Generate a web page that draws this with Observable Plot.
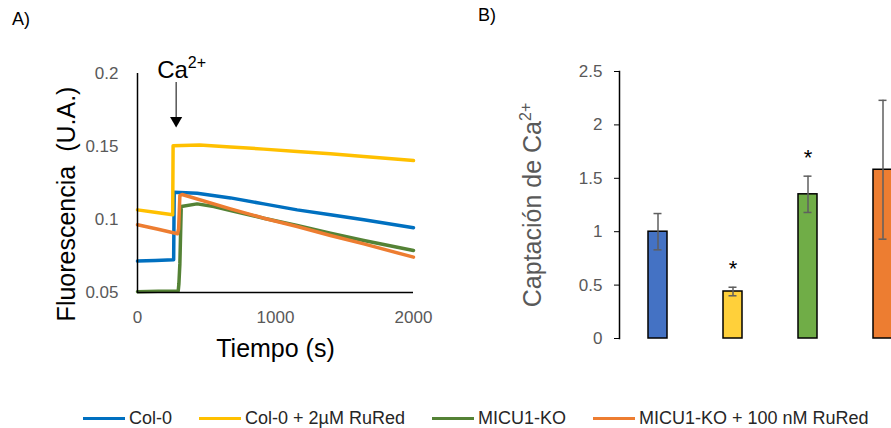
<!DOCTYPE html>
<html>
<head>
<meta charset="utf-8">
<script src="https://cdn.jsdelivr.net/npm/d3@7"></script>
<script src="https://cdn.jsdelivr.net/npm/@observablehq/plot@0.6"></script>
<style>
  html, body { margin: 0; padding: 0; background: #fff; overflow: hidden; }
  #wrap { position: relative; width: 891px; height: 428px; overflow: hidden; font-family: "Liberation Sans", Arial, sans-serif; }
  #panelA { position: absolute; left: 0; top: 0; width: 450px; }
  #panelB { position: absolute; left: 480px; top: 0; width: 440px; }
  #panelA svg, #panelB svg { max-width: none !important; }
  .tag { position: absolute; font-size: 18px; color: #000; }
  #legend { position: absolute; left: 83px; top: 407px; display: flex; gap: 27px; font-size: 18px; line-height: 22px; color: #262626; white-space: pre; }
  .item { display: flex; align-items: center; }
  .swatch { width: 42px; height: 3px; margin-right: 4px; }
</style>
</head>
<body>
<div id="wrap">
  <div id="panelA"></div>
  <div id="panelB"></div>
  <div class="tag" style="left:12px;top:9px;">A)</div>
  <div class="tag" style="left:478px;top:5px;">B)</div>
  <div id="legend"></div>
</div>
<script>
// ---------- Data ----------
const seriesNames = ["Col-0", "Col-0 + 2µM RuRed", "MICU1-KO", "MICU1-KO + 100 nM RuRed"];
const lineColors = ["#0070C0", "#FFC000", "#548235", "#ED7D31"];
const barColors = ["#4472C4", "#FFD03A", "#70AD47", "#ED7D31"];

// Panel A traces: [time (s), fluorescence (U.A.)]
const col0 = [[0,0.0715],[130,0.0720],[262,0.0724],[266,0.1187],[432,0.1180],[674,0.1148],[915,0.1107],[1157,0.1066],[1398,0.1032],[1640,0.0998],[2000,0.0943]];
const col0RuRed = [[0,0.1066],[125,0.1050],[255,0.1032],[258,0.1505],[450,0.1510],[674,0.1497],[915,0.1482],[1157,0.1466],[1398,0.1450],[1640,0.1432],[2000,0.1404]];
const micu1 = [[0,0.0505],[150,0.0508],[295,0.0509],[300,0.0560],[307,0.0696],[317,0.1089],[432,0.1107],[553,0.1089],[674,0.1062],[915,0.1009],[1157,0.0959],[1398,0.0906],[1640,0.0856],[2000,0.0788]];
const micu1RuRed = [[0,0.0964],[150,0.0933],[290,0.0902],[298,0.0935],[307,0.1164],[323,0.1171],[674,0.1073],[915,0.1009],[1157,0.0952],[1398,0.0890],[1640,0.0833],[2000,0.0742]];
const caAddTime = [280];

const xTicksA = [0, 1000, 2000];
const yTicksA = [0.05, 0.1, 0.15, 0.2];

// Panel B
const barValues = [1.0, 0.44, 1.35, 1.58];
const errLow = [0.83, 0.40, 1.18, 0.93];
const errHigh = [1.17, 0.48, 1.52, 2.23];
const significant = [false, true, true, false];
const yTicksB = [0, 0.5, 1, 1.5, 2, 2.5];

// ---------- Build tables ----------
const traces = [col0, col0RuRed, micu1, micu1RuRed];
const lineData = traces.flatMap((tr, i) => tr.map(([t, v]) => ({t, v, series: seriesNames[i]})));
const barData = seriesNames.map((c, i) => ({cat: c, value: barValues[i], lo: errLow[i], hi: errHigh[i], sig: significant[i]}));

const font = '"Liberation Sans", Arial, sans-serif';

// ---------- Panel A ----------
const plotA = Plot.plot({
  width: 450, height: 380,
  marginLeft: 137, marginRight: 37, marginTop: 73, marginBottom: 88,
  x: {domain: [0, 2000]},
  y: {domain: [0.05, 0.2]},
  color: {domain: seriesNames, range: lineColors},
  style: {fontFamily: font, fontSize: "17px", background: "transparent", overflow: "visible"},
  marks: [
    Plot.axisY({ticks: yTicksA, tickFormat: d => String(d), tickSize: 0, tickPadding: 19, fill: "#595959", label: null}),
    Plot.axisX({ticks: xTicksA, tickFormat: d => String(d), tickSize: 0, tickPadding: 18, fill: "#595959", label: null}),
    Plot.line(lineData, {x: "t", y: "v", z: "series", stroke: "series", strokeWidth: 3.5}),
    Plot.ruleX([0], {stroke: "black", strokeWidth: 1.5}),
    Plot.ruleY([0.05], {stroke: "black", strokeWidth: 1.5}),
    // Ca2+ addition annotation
    Plot.ruleX(caAddTime, {x: d => d, stroke: "black", strokeWidth: 1, insetTop: 9, insetBottom: 175}),
    Plot.dot(caAddTime, {x: d => d, frameAnchor: "top", dy: 47, symbol: "triangle", rotate: 180, r: 4.5, fill: "black", stroke: null}),
    Plot.text(caAddTime, {x: d => d, frameAnchor: "top", dy: -13, dx: -19, textAnchor: "start", text: () => "Ca²⁺", fontSize: 24, fill: "black", className: "ca-label"}),
    // axis titles
    Plot.text(["Fluorescencia  (U.A.)"], {frameAnchor: "left", textAnchor: "middle", text: d => d, rotate: -90, dx: -71, dy: 21, fontSize: 25, fill: "black"}),
    Plot.text(["Tiempo (s)"], {frameAnchor: "bottom", textAnchor: "middle", text: d => d, dy: 64, fontSize: 25, fill: "black"})
  ]
});
document.getElementById("panelA").append(plotA);

// ---------- Panel B ----------
const plotB = Plot.plot({
  width: 440, height: 380,
  marginLeft: 139, marginRight: 0, marginTop: 71, marginBottom: 42,
  x: {domain: seriesNames, paddingInner: 0.747, paddingOuter: 0.38, axis: null},
  y: {domain: [0, 2.5]},
  color: {domain: seriesNames, range: barColors},
  style: {fontFamily: font, fontSize: "17px", background: "transparent"},
  marks: [
    Plot.axisY({ticks: yTicksB, tickFormat: d => String(d), tickSize: 5, tickPadding: 12, stroke: "black", fill: "#595959", label: null}),
    Plot.frame({anchor: "left", stroke: "black", strokeWidth: 1.5}),
    Plot.barY(barData, {x: "cat", y: "value", fill: "cat", stroke: "black", strokeWidth: 1.5}),
    Plot.ruleX(barData, {x: "cat", y1: "lo", y2: "hi", stroke: "#5f5f5f", strokeWidth: 1.5}),
    Plot.tickY(barData, {x: "cat", y: "lo", stroke: "#5f5f5f", strokeWidth: 1.5, insetLeft: 5.5, insetRight: 5.5}),
    Plot.tickY(barData, {x: "cat", y: "hi", stroke: "#5f5f5f", strokeWidth: 1.5, insetLeft: 5.5, insetRight: 5.5}),
    Plot.text(barData.filter(d => d.sig), {x: "cat", y: "hi", text: () => "*", dy: -18, fontSize: 22, fill: "black"}),
    Plot.text(["Captación de Ca²⁺"], {frameAnchor: "left", textAnchor: "middle", text: d => d, rotate: -90, dx: -87, dy: 0, fontSize: 25, fill: "#595959", className: "ca-label"})
  ]
});
document.getElementById("panelB").append(plotB);

// Render the "2+" of Ca²⁺ as a proper superscript (still real text)
document.querySelectorAll(".ca-label text").forEach(t => {
  const s = t.textContent;
  if (!s.endsWith("²⁺")) return;
  const base = s.slice(0, -2);
  t.textContent = "";
  const ns = "http://www.w3.org/2000/svg";
  const a = document.createElementNS(ns, "tspan");
  a.textContent = base;
  const b = document.createElementNS(ns, "tspan");
  b.textContent = "2+";
  b.setAttribute("font-size", "16");
  b.setAttribute("dy", "-0.6em");
  t.append(a, b);
});

// ---------- Legend ----------
const legend = document.getElementById("legend");
seriesNames.forEach((name, i) => {
  const item = document.createElement("div");
  item.className = "item";
  const sw = document.createElement("span");
  sw.className = "swatch";
  sw.style.background = lineColors[i];
  const label = document.createElement("span");
  label.textContent = name;
  item.append(sw, label);
  legend.append(item);
});
</script>
</body>
</html>
